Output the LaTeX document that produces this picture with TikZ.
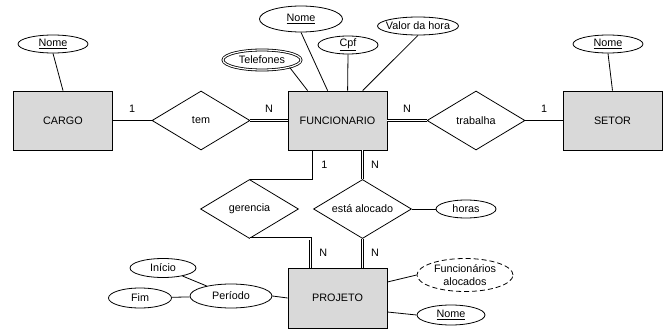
\documentclass[tikz,border=0pt]{standalone}
\usepackage{fontspec}
\setmainfont{Liberation Sans}
\usetikzlibrary{shapes.geometric}

\tikzset{
  entity/.style={draw, fill=gray!30, minimum width=99pt, minimum height=59pt, inner sep=0pt},
  relation/.style={draw, diamond, aspect=1.66, minimum width=98pt, minimum height=59pt, inner sep=0pt},
  attrib/.style={draw, ellipse, minimum height=18pt, inner xsep=-5pt, inner ysep=0pt},
  multival/.style={attrib, double, double distance=1.2pt},
  derived/.style={attrib, dash pattern=on 5pt off 3pt},
  total/.style={double, double distance=1.5pt},
  cardup/.style={above=4pt},
  cardright/.style={right=5pt}
}

\begin{document}
\begin{tikzpicture}[x=1pt, y=-1pt, line width=0.8pt, font=\fontsize{10.8}{12.5}\selectfont]
  \useasboundingbox (0,0) rectangle (670,329);
  % entidades
  \node[entity] (cargo) at (63,120.5) {CARGO};
  \node[entity] (func) at (337.5,120.5) {FUNCIONARIO};
  \node[entity] (setor) at (612.5,120.5) {SETOR};
  \node[entity, minimum height=60pt] (proj) at (337.5,298) {PROJETO};
  % relacionamentos
  \node[relation] (tem) at (201,120.5) {tem};
  \node[relation] (trab) at (476,120.5) {trabalha};
  \node[relation] (ger) at (249.5,209) {gerencia};
  \node[relation] (aloc) at (362.5,209) {está alocado};
  % atributos
  \node[attrib, minimum width=70pt] (cargonome) at (53,44) {\underline{Nome}};
  \node[attrib, minimum width=83pt, minimum height=26pt] (funcnome) at (301,19) {\underline{Nome}};
  \node[multival, minimum width=78pt, minimum height=20pt] (tel) at (262,60) {Telefones};
  \node[attrib, minimum width=60pt] (cpf) at (348,45) {\underline{Cpf}};
  \node[attrib, minimum width=81pt] (valor) at (418,26) {Valor da hora};
  \node[attrib, minimum width=70pt] (setornome) at (608,44) {\underline{Nome}};
  \node[attrib, minimum width=60pt] (horas) at (466,209) {horas};
  \node[derived, minimum width=96pt, minimum height=33pt, align=center] (falocados) at (465,275) {Funcionários\\alocados};
  \node[attrib, minimum width=68pt, minimum height=20pt] (projnome) at (451,315) {\underline{Nome}};
  \node[attrib, minimum width=82pt, minimum height=24pt] (periodo) at (231,296) {Período};
  \node[attrib, minimum width=66pt, minimum height=19pt] (inicio) at (163,268) {Início};
  \node[attrib, minimum width=63pt, minimum height=20pt] (fim) at (140,298) {Fim};

  \coordinate (gtop) at ([xshift=25pt]func.south west);
  \coordinate (gbot) at ([xshift=23pt]proj.north west);

  % ligacoes
  \draw (cargo) -- node[cardup] {1} (tem);
  \draw[total] (tem) -- node[cardup] {N} (func);
  \draw[total] (func) -- node[cardup] {N} (trab);
  \draw (trab) -- node[cardup] {1} (setor);
  \draw (gtop) |- node[pos=0.25, cardright] {1} (ger.north);
  \draw[total] (ger.south) -| node[pos=0.75, cardright] {N} (gbot);
  \draw[total] (func.south -| aloc.north) -- node[cardright] {N} (aloc.north);
  \draw[total] (aloc.south) -- node[cardright] {N} (proj.north -| aloc.south);
  \draw (aloc.east) -- (horas.west);

  \draw (cargonome.south) -- (cargo.north);
  \draw (setornome.south) -- (setor.north);
  \draw (tel.-15) -- ([xshift=20pt]func.north west);
  \draw (funcnome.south) -- ([xshift=40pt]func.north west);
  \draw (cpf.south) -- ([xshift=60pt]func.north west);
  \draw (valor.south) -- ([xshift=75pt]func.north west);
  \draw ([yshift=16pt]proj.east) -- (falocados.west);
  \draw ([yshift=-14pt]proj.east) -- (projnome.west);
  \draw (periodo.east) -- (proj.west);
  \draw (inicio) -- (periodo);
  \draw (fim) -- (periodo);
\end{tikzpicture}
\end{document}
